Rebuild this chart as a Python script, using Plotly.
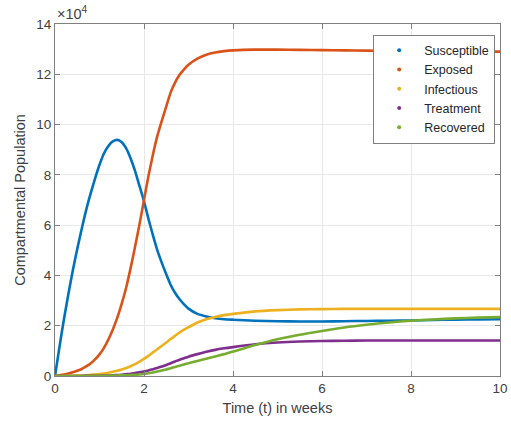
import plotly.graph_objects as go

# time in weeks
t = [0, 0.1, 0.2, 0.3, 0.4, 0.5, 0.6, 0.7, 0.8, 0.9, 1.0, 1.1, 1.2, 1.3, 1.4, 1.5, 1.6, 1.7, 1.8, 1.9,
     2.0, 2.1, 2.2, 2.3, 2.4, 2.5, 2.6, 2.7, 2.8, 2.9, 3.0, 3.2, 3.4, 3.6, 3.8, 4.0, 4.5, 5.0, 5.5, 6.0,
     6.5, 7.0, 7.5, 8.0, 8.5, 9.0, 9.5, 10.0]

# populations in units of 10^4
susceptible = [0, 1.15, 2.25, 3.25, 4.2, 5.05, 5.85, 6.6, 7.25, 7.85, 8.4, 8.85, 9.15, 9.33, 9.39, 9.3,
               9.05, 8.65, 8.15, 7.55, 6.95, 6.25, 5.6, 5.0, 4.5, 4.05, 3.62, 3.3, 3.05, 2.85, 2.68, 2.47,
               2.37, 2.3, 2.26, 2.24, 2.2, 2.18, 2.17, 2.17, 2.18, 2.19, 2.2, 2.21, 2.23, 2.24, 2.25, 2.26]
exposed = [0, 0.03, 0.06, 0.1, 0.15, 0.21, 0.28, 0.38, 0.5, 0.66, 0.86, 1.12, 1.45, 1.85, 2.32, 2.88,
           3.52, 4.3, 5.15, 6.05, 7.0, 7.95, 8.8, 9.55, 10.15, 10.72, 11.28, 11.68, 11.98, 12.2, 12.38,
           12.62, 12.78, 12.87, 12.92, 12.95, 12.98, 12.98, 12.97, 12.96, 12.95, 12.94, 12.93, 12.93,
           12.92, 12.91, 12.9, 12.9]
infectious = [0, 0.0, 0.0, 0.01, 0.01, 0.02, 0.02, 0.03, 0.05, 0.06, 0.08, 0.1, 0.13, 0.17, 0.21, 0.26,
              0.32, 0.39, 0.47, 0.57, 0.68, 0.8, 0.94, 1.07, 1.2, 1.33, 1.47, 1.6, 1.73, 1.84, 1.94,
              2.13, 2.26, 2.35, 2.42, 2.47, 2.57, 2.62, 2.65, 2.66, 2.67, 2.67, 2.67, 2.67, 2.67, 2.67,
              2.67, 2.67]
treatment = [0, 0, 0, 0, 0, 0, 0, 0.01, 0.01, 0.01, 0.01, 0.02, 0.02, 0.03, 0.04, 0.05, 0.07, 0.09,
             0.12, 0.15, 0.18, 0.22, 0.27, 0.32, 0.38, 0.44, 0.51, 0.58, 0.65, 0.71, 0.77, 0.87, 0.96,
             1.04, 1.1, 1.15, 1.26, 1.33, 1.37, 1.39, 1.4, 1.41, 1.41, 1.41, 1.41, 1.41, 1.41, 1.41]
recovered = [0, 0, 0, 0, 0, 0, 0, 0, 0, 0, 0.01, 0.01, 0.01, 0.02, 0.02, 0.03, 0.03, 0.04, 0.05, 0.06,
             0.08, 0.11, 0.14, 0.18, 0.22, 0.26, 0.31, 0.36, 0.41, 0.46, 0.51, 0.6, 0.69, 0.78, 0.87, 0.97,
             1.23, 1.46, 1.64, 1.79, 1.93, 2.04, 2.13, 2.2, 2.25, 2.29, 2.32, 2.34]

names = ["Susceptible", "Exposed", "Infectious", "Treatment", "Recovered"]
series = [susceptible, exposed, infectious, treatment, recovered]
colors = ["#0072BD", "#D95319", "#EDB120", "#7E2F8E", "#77AC30"]

x_ticks = [0, 2, 4, 6, 8, 10]
y_ticks = [0, 2, 4, 6, 8, 10, 12, 14]

font_family = "Liberation Sans, Arial, sans-serif"
text_col = "#404040"

fig = go.Figure()
for name, ys, c in zip(names, series, colors):
    fig.add_trace(go.Scatter(x=t, y=ys, mode="lines",
                             line=dict(color=c, width=2.6, shape="spline", smoothing=0.6),
                             showlegend=False, hoverinfo="skip"))
for name, c in zip(names, colors):
    fig.add_trace(go.Scatter(x=[None], y=[None], mode="markers", name=name,
                             marker=dict(color=c, size=4)))

axis_common = dict(showline=True, linecolor="#808080", linewidth=1, mirror="ticks",
                   ticks="inside", ticklen=5, tickcolor="#808080", automargin=False,
                   showgrid=True, gridcolor="#e8e8e8", gridwidth=1, zeroline=False,
                   tickfont=dict(family=font_family, size=13.5, color=text_col))

fig.update_layout(
    width=511, height=425,
    margin=dict(l=55, r=11, t=24, b=49),
    paper_bgcolor="white", plot_bgcolor="white",
    font=dict(family=font_family, color=text_col),
    xaxis=dict(range=[0, 10], tickvals=x_ticks, **axis_common,
               title=dict(text="Time (t) in weeks", font=dict(size=14.5, color=text_col), standoff=7)),
    yaxis=dict(range=[0, 14], tickvals=y_ticks, **axis_common,
               title=dict(text="Compartmental Population", font=dict(size=14.5, color=text_col), standoff=7)),
    legend=dict(x=0.715, y=0.97, xanchor="left", yanchor="top",
                bgcolor="white", bordercolor="#808080", borderwidth=1,
                font=dict(family=font_family, size=12.5, color="#262626"),
                itemwidth=40),
    annotations=[dict(text="×10<sup>4</sup>", xref="paper", yref="paper", x=0, y=1,
                      xanchor="left", yanchor="bottom", showarrow=False, yshift=0,
                      font=dict(family=font_family, size=14.5, color=text_col))],
)

fig.write_html("out.html")
